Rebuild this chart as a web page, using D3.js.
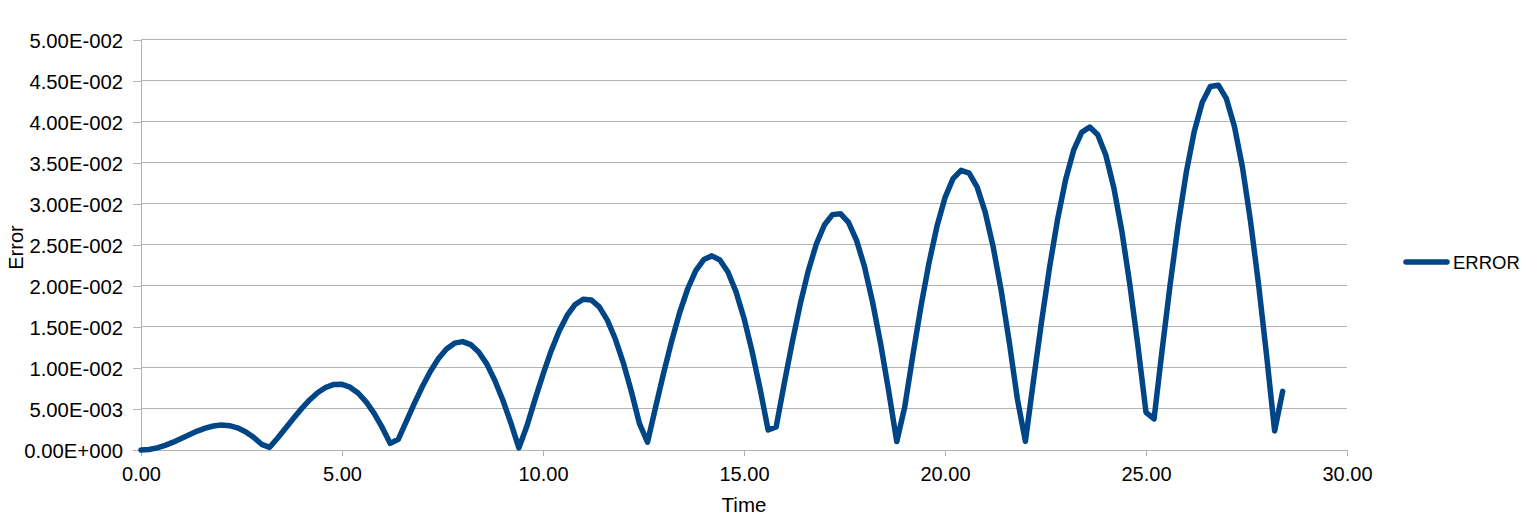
<!DOCTYPE html>
<html><head><meta charset="utf-8">
<script src="https://cdn.jsdelivr.net/npm/d3@7"></script>
<style>body{margin:0;background:#fff}svg text{font-family:"Liberation Sans",Arial,sans-serif;fill:#000}</style>
</head><body><svg id="c" width="1538" height="519"></svg>
<script>
const seriesName = "ERROR";
const timeStep = 0.2;
const errorValues = [
0,0.0000664,0.000260,0.000566,0.000959,0.001406,0.001869,0.002304,0.002671,0.002926,
0.003034,0.002966,0.002702,0.002231,0.001557,0.000694,0.000328,0.001468,0.002678,0.003901,
0.005071,0.006125,0.007000,0.007637,0.007982,0.007997,0.007654,0.006943,0.005874,0.004455,
0.002748,0.000802,0.001307,0.003496,0.005671,0.007734,0.009592,0.011144,0.012306,0.013012,
0.013204,0.012843,0.011931,0.010487,0.008503,0.006089,0.003300,0.000256,0.002931,0.006132,
0.009212,0.012034,0.014469,0.016397,0.017728,0.018368,0.018276,0.017433,0.015827,0.013518,
0.010583,0.007094,0.003201,0.000946,0.005188,0.009353,0.013258,0.016748,0.019641,0.021843,
0.023198,0.023645,0.023144,0.021683,0.019291,0.016052,0.012050,0.007456,0.002444,0.002800,
0.008061,0.013129,0.017786,0.021837,0.025096,0.027411,0.028667,0.028788,0.027737,0.025532,
0.022286,0.017981,0.012903,0.007157,0.001024,0.005293,0.011527,0.017427,0.022742,0.027243,
0.030735,0.033049,0.034068,0.033724,0.032009,0.028971,0.024705,0.019356,0.013112,0.006214,
0.001053,0.008408,0.015562,0.022207,0.028081,0.032917,0.036512,0.038691,0.039341,0.038402,
0.035932,0.031939,0.026633,0.020093,0.012657,0.004593,0.003779,0.012136,0.020132,0.027441,
0.033759,0.038805,0.042368,0.044280,0.044434,0.042791,0.039392,0.034424,0.027872,0.020172,
0.011512,0.002305,0.007147
];
const timeValues = errorValues.map((_, i) => +(i * timeStep).toFixed(1));
const xTicks = [0,5,10,15,20,25,30];
const yTicks = [0,0.005,0.01,0.015,0.02,0.025,0.03,0.035,0.04,0.045,0.05];
const data = timeValues.map((t, i) => ({t, v: errorValues[i]}));

const svg = d3.select("#c");
const L = 141, R = 1347, T = 39.5, B = 450;
const x = d3.scaleLinear().domain([0, 30]).range([L, R]);
const y = d3.scaleLinear().domain([0, 0.05]).range([B, T]);
const FONT = '"Liberation Sans", Arial, sans-serif';

const fmtY = v => {
  if (v === 0) return "0.00E+000";
  const e = Math.floor(Math.log10(v) + 1e-9);
  const m = v / Math.pow(10, e);
  const sign = e < 0 ? "-" : "+";
  return m.toFixed(2) + "E" + sign + String(Math.abs(e)).padStart(3, "0");
};

// gridlines
svg.append("g").selectAll("line").data(yTicks).join("line")
  .attr("x1", L).attr("x2", R)
  .attr("y1", d => y(d)).attr("y2", d => y(d))
  .attr("stroke", "#b3b3b3").attr("stroke-width", 1).attr("shape-rendering", "crispEdges");

// y axis
const yAxis = svg.append("g").attr("transform", `translate(${L},0)`)
  .call(d3.axisLeft(y).tickValues(yTicks).tickFormat(fmtY).tickSize(8).tickPadding(10));
yAxis.select(".domain").attr("stroke", "#b3b3b3").attr("shape-rendering", "crispEdges");
yAxis.selectAll(".tick line").attr("stroke", "#b3b3b3").attr("shape-rendering", "crispEdges");
yAxis.selectAll("text").attr("font-size", "20.3px").attr("dy", "0.37em").attr("fill", "#000")
  .style("font-family", FONT);

// x axis
const xAxis = svg.append("g").attr("transform", `translate(0,${B})`)
  .call(d3.axisBottom(x).tickValues(xTicks).tickFormat(d3.format(".2f")).tickSize(6).tickPadding(10));
xAxis.select(".domain").attr("stroke", "#b3b3b3").attr("shape-rendering", "crispEdges");
xAxis.selectAll(".tick line").attr("stroke", "#b3b3b3").attr("shape-rendering", "crispEdges");
xAxis.selectAll("text").attr("font-size", "20px").attr("y", 31).attr("dy", null).attr("fill", "#000")
  .style("font-family", FONT);

// line
const line = d3.line().x(d => x(d.t)).y(d => y(d.v));
svg.append("path").datum(data).attr("d", line)
  .attr("fill", "none").attr("stroke", "#004586").attr("stroke-width", 5.5)
  .attr("stroke-linejoin", "round").attr("stroke-linecap", "round");

// axis titles
svg.append("text").attr("x", (L + R) / 2).attr("y", 511.5).attr("text-anchor", "middle")
  .attr("font-size", "20.5px").text("Time");
svg.append("text").attr("transform", `translate(22.5,247.5) rotate(-90)`)
  .attr("text-anchor", "middle").attr("font-size", "20px").text("Error");

// legend
svg.append("line").attr("x1", 1406).attr("x2", 1447).attr("y1", 262).attr("y2", 262)
  .attr("stroke", "#004586").attr("stroke-width", 5.5).attr("stroke-linecap", "round");
svg.append("text").attr("x", 1453).attr("y", 268.5).attr("font-size", "18.5px").text(seriesName);
</script></body></html>
